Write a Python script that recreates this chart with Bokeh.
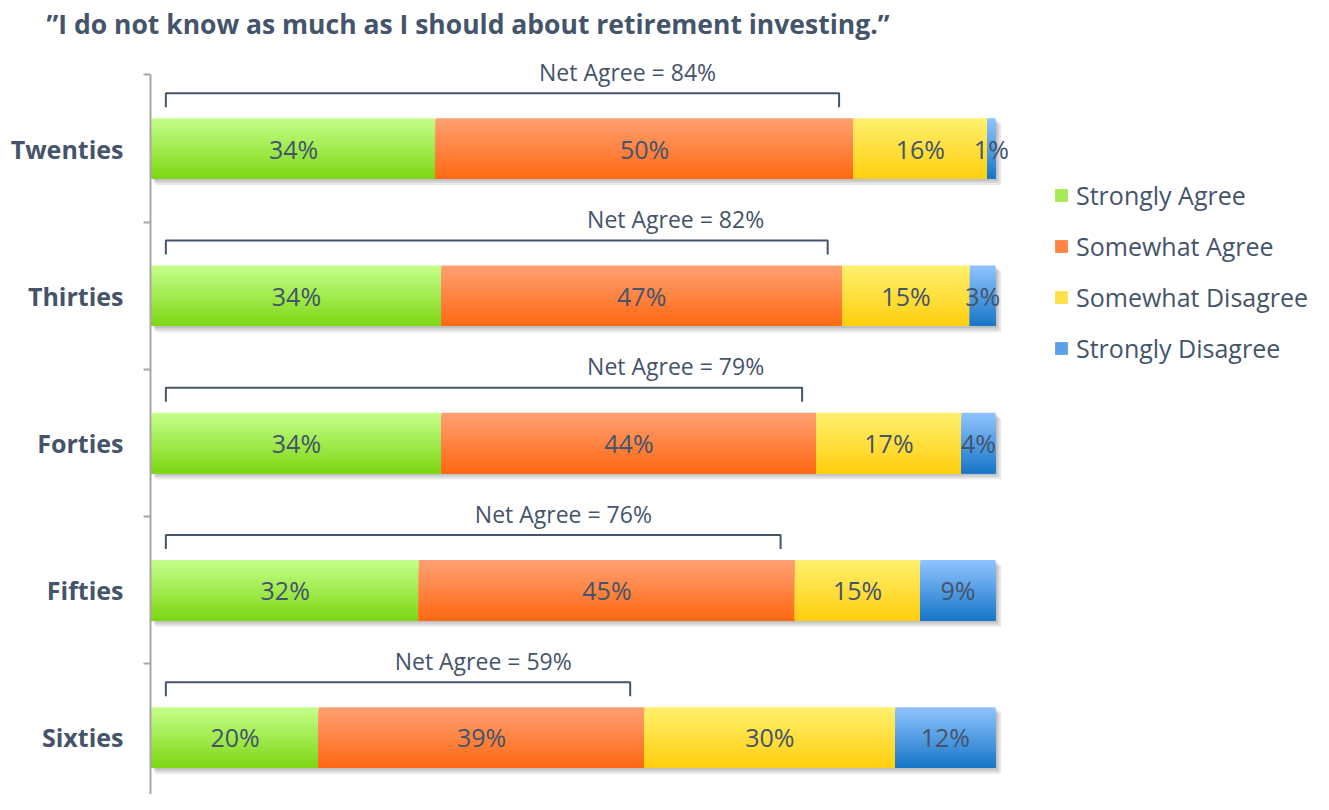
import numpy as np
from bokeh.plotting import figure
from bokeh.models import ColumnDataSource, Range1d, FixedTicker, Legend, LegendItem, Title
from bokeh.core.properties import value
from bokeh.embed import file_html
from bokeh.resources import INLINE

# ---------------- data ----------------
title_text = "\u201dI do not know as much as I should about retirement investing.\u201d"
categories = ["Twenties", "Thirties", "Forties", "Fifties", "Sixties"]
series = ["Strongly Agree", "Somewhat Agree", "Somewhat Disagree", "Strongly Disagree"]
strongly_agree = [34, 34, 34, 32, 20]
somewhat_agree = [50, 47, 44, 45, 39]
somewhat_disagree = [16, 15, 17, 15, 30]
strongly_disagree = [1, 3, 4, 9, 12]
net_agree = [84, 82, 79, 76, 59]

# ---------------- styling / layout ----------------
TEXT = "#44546A"
FONT = "Open Sans"
top_colors = [(197, 255, 140), (255, 160, 115), (255, 240, 110), (145, 196, 255)]
bot_colors = [(125, 214, 18), (255, 104, 18), (255, 206, 14), (22, 118, 200)]
legend_colors = ["#a6ea55", "#ff8444", "#ffe048", "#5aa0e6"]
net_label_pos = [56.4, 62.1, 62.1, 48.8, 39.3]   # horizontal anchor of "Net Agree" labels (% of bar)
BAR_H = 0.41
N_STRIPS = 24

values = [strongly_agree, somewhat_agree, somewhat_disagree, strongly_disagree]
n = len(categories)
centers = [n - 0.5 - i for i in range(n)]

# stacked normalized bars (each bar spans 100% of its total)
strip = dict(top=[], bottom=[], left=[], right=[], color=[])
lab = dict(x=[], y=[], text=[])
shadow = dict(left=[], right=[], top=[], bottom=[])
bracket_xs, bracket_ys = [], []
net_lab = dict(x=[], y=[], text=[])
for i in range(n):
    row = [v[i] for v in values]
    tot = float(sum(row))
    c = centers[i]
    cum = 0.0
    edges = []
    for j, v in enumerate(row):
        l = cum / tot * 100
        r = (cum + v) / tot * 100
        edges.append((l, r))
        for k in range(N_STRIPS):
            t = (k + 0.5) / N_STRIPS
            col = tuple(int(round(top_colors[j][q] + (bot_colors[j][q] - top_colors[j][q]) * t)) for q in range(3))
            strip["top"].append(c + BAR_H / 2 - k * BAR_H / N_STRIPS)
            strip["bottom"].append(c - BAR_H / 2)
            strip["left"].append(l)
            strip["right"].append(r)
            strip["color"].append("#%02x%02x%02x" % col)
        lab["x"].append((l + r) / 2)
        lab["y"].append(c)
        lab["text"].append(f"{v}%")
        cum += v
    # shadow
    for s in range(1, 4):
        shadow["left"].append(0.15 * s)
        shadow["right"].append(100 + 0.22 * s)
        shadow["top"].append(c + BAR_H / 2 - 0.012 * s)
        shadow["bottom"].append(c - BAR_H / 2 - 0.014 * s)
    # bracket over the agree segments
    agree_end = edges[1][1]
    bl, br = 1.7, agree_end - 1.7
    ytop, ybot = c + 0.375, c + 0.28
    bracket_xs.append([bl, bl, br, br])
    bracket_ys.append([ybot, ytop, ytop, ybot])
    net_lab["x"].append(net_label_pos[i])
    net_lab["y"].append(c + 0.52)
    net_lab["text"].append(f"Net Agree = {net_agree[i]}%")

PX_PER_UNIT = 8.44
BAND_PX = 147.25
W, H = 1313, 794
LEFT, TOP = 150, 45
p = figure(width=W, height=H, output_backend="svg", toolbar_location=None,
           x_range=Range1d(-1 / PX_PER_UNIT, (W - LEFT - 1) / PX_PER_UNIT),
           y_range=Range1d(16.6 / BAND_PX, 5 + 29.4 / BAND_PX),
           min_border_left=LEFT, min_border_right=0, min_border_bottom=0, min_border_top=TOP)
p.outline_line_color = None
p.grid.visible = False
p.xaxis.visible = False
p.background_fill_color = "white"
p.border_fill_color = "white"

p.title = Title(text=title_text, align="left", offset=-104, standoff=7,
                text_font=FONT, text_font_size="26.5px", text_font_style="bold", text_color=TEXT)

# shadow
p.quad(left="left", right="right", top="top", bottom="bottom", source=ColumnDataSource(shadow),
       fill_color="black", fill_alpha=0.09, line_color=None)
# gradient bars (each strip overlays everything below it -> no seams)
p.quad(top="top", bottom="bottom", left="left", right="right", source=ColumnDataSource(strip),
       fill_color="color", line_color=None)

# legend dummies (data outside the visible range)
items = []
for j, s in enumerate(series):
    r = p.hbar(y=[-100], left=[0], right=[1], height=0.1, fill_color=legend_colors[j], line_color=None)
    items.append(LegendItem(label=s, renderers=[r]))
legend = Legend(items=items, location=(903, 428), glyph_width=16, glyph_height=16,
                label_height=36, spacing=15, padding=0, margin=0, label_standoff=7,
                label_text_font=FONT, label_text_font_size="25px", label_text_color=TEXT,
                border_line_color=None, background_fill_alpha=0)
p.add_layout(legend)

# value labels
p.text(x="x", y="y", text="text", source=ColumnDataSource(lab), text_align="center",
       text_baseline="middle", text_font=value(FONT), text_font_size="25px", text_color=TEXT)

# brackets + net agree labels
p.multi_line(xs=bracket_xs, ys=bracket_ys, line_color=TEXT, line_width=2)
p.text(x="x", y="y", text="text", source=ColumnDataSource(net_lab), text_align="center",
       text_baseline="middle", text_font=value(FONT), text_font_size="23px", text_color=TEXT)

# y axis with ticks between categories
ax = p.yaxis[0]
ax.ticker = FixedTicker(ticks=centers, minor_ticks=list(range(n + 1)))
ax.major_label_overrides = {c: categories[i] for i, c in enumerate(centers)}
ax.bounds = (0, n)
ax.axis_line_color = "#a6a6a6"
ax.axis_line_width = 2
ax.major_tick_out = 0
ax.major_tick_in = 0
ax.minor_tick_out = 7
ax.minor_tick_in = 0
ax.minor_tick_line_color = "#a6a6a6"
ax.minor_tick_line_width = 2
ax.major_label_standoff = 20
ax.major_label_text_font = FONT
ax.major_label_text_font_size = "25px"
ax.major_label_text_font_style = "bold"
ax.major_label_text_color = TEXT

open("out.html", "w").write(file_html(p, INLINE))
